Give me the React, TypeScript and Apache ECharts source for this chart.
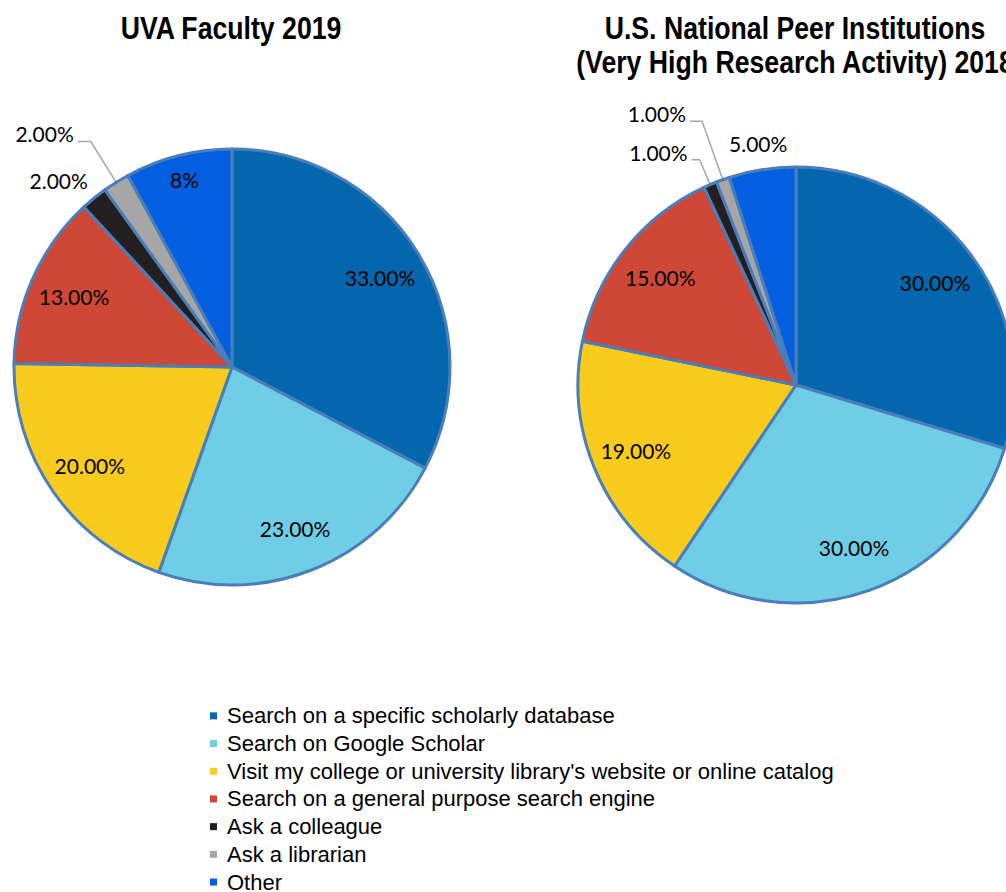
import React, { useEffect, useRef } from "react";
import * as echarts from "echarts";

const categories = [
  "Search on a specific scholarly database",
  "Search on Google Scholar",
  "Visit my college or university library's website or online catalog",
  "Search on a general purpose search engine",
  "Ask a colleague",
  "Ask a librarian",
  "Other",
];
const uvaValues = [33, 23, 20, 13, 2, 2, 8];
const peerValues = [30, 30, 19, 15, 1, 1, 5];
const uvaLabels = ["33.00%", "23.00%", "20.00%", "13.00%", "2.00%", "2.00%", "8%"];
const peerLabels = ["30.00%", "30.00%", "19.00%", "15.00%", "1.00%", "1.00%", "5.00%"];
const uvaTitle = "UVA Faculty 2019";
const peerTitle = ["U.S. National Peer Institutions", "(Very High Research Activity) 2018"];

const colors = ["#0466ac", "#6fcde6", "#f8cb1c", "#cf4836", "#231f20", "#a6a6a6", "#035ee0"];

const LABEL_FONT = "Lato";
const SANS = "'Liberation Sans', Arial, sans-serif";
const R = 218;

type OutCfg = { length: number; length2: number; line: boolean; lift: number; gap: number };

function buildPie(
  center: [number, number],
  values: number[],
  labels: string[],
  farRadius: number,
  outside: Record<number, OutCfg>
) {
  const inner = [0, 1, 2, 3];
  const far = [6];
  const main = {
    type: "pie",
    center,
    radius: R,
    startAngle: 90,
    clockwise: true,
    avoidLabelOverlap: false,
    silent: true,
    z: 2,
    itemStyle: { borderColor: "#4a7ebb", borderWidth: 3 },
    label: { show: false },
    labelLine: { show: false },
    emphasis: { disabled: true },
    data: values.map((v, i) => {
      const o = outside[i];
      const item: any = { name: categories[i], value: v, itemStyle: { color: colors[i] } };
      if (o) {
        item.label = {
          show: true,
          position: "outside",
          formatter: labels[i] + "\n ",
          lineHeight: o.lift * 2,
          color: "#000",
          fontFamily: LABEL_FONT,
          fontSize: 21,
          distanceToLabelLine: o.gap,
        };
        item.labelLine = {
          show: o.line,
          length: o.length,
          length2: o.length2,
          smooth: false,
          lineStyle: { color: "#a6a6a6", width: 1.5 },
        };
      }
      return item;
    }),
  };
  const overlay = (radius: number, idx: number[]) => ({
    type: "pie",
    center,
    radius,
    startAngle: 90,
    clockwise: true,
    avoidLabelOverlap: false,
    silent: true,
    z: 3,
    itemStyle: { color: "rgba(0,0,0,0)", borderWidth: 0 },
    emphasis: { disabled: true },
    labelLine: { show: false },
    label: { show: false },
    data: values.map((v, i) => ({
      name: categories[i],
      value: v,
      label: idx.includes(i)
        ? {
            show: true,
            position: "inside",
            formatter: labels[i],
            color: "#000",
            fontFamily: LABEL_FONT,
            fontSize: 21,
          }
        : { show: false },
    })),
  });
  return [main, overlay(340, inner), overlay(farRadius, far)];
}

function titleText(text: string, x: number, y: number) {
  return {
    type: "text",
    x,
    y,
    scaleX: 0.86,
    style: {
      text,
      x: 0,
      y: 0,
      font: `bold 31px ${SANS}`,
      fill: "#000",
      textAlign: "center",
      textVerticalAlign: "middle",
    },
  };
}

export default function App() {
  const ref = useRef<HTMLDivElement>(null);
  useEffect(() => {
    if (!ref.current) return;
    const chart = echarts.init(ref.current, null, { renderer: "svg" });
    const left = buildPie([232, 367], uvaValues, uvaLabels, 380, {
      4: { length: 10, length2: 0, line: false, lift: 10, gap: 0 },
      5: { length: 48, length2: 13, line: true, lift: 8, gap: 4 },
    });
    const right = buildPie([796, 385], peerValues, peerLabels, 482, {
      4: { length: 27, length2: 8, line: true, lift: 7, gap: 4 },
      5: { length: 62, length2: 12, line: true, lift: 8, gap: 4 },
    });
    chart.setOption({
      animation: false,
      backgroundColor: "#ffffff",
      color: colors,
      graphic: [
        titleText(uvaTitle, 231, 28),
        titleText(peerTitle[0], 795, 28),
        titleText(peerTitle[1], 795, 62),
      ],
      legend: {
        orient: "vertical",
        left: 210,
        top: 702,
        height: 200,
        padding: 0,
        data: categories,
        icon: "rect",
        itemWidth: 7,
        itemHeight: 7,
        itemGap: 0,
        selectedMode: false,
        itemStyle: { borderWidth: 0 },
        textStyle: {
          fontFamily: SANS,
          fontSize: 22,
          lineHeight: 27.7,
          color: "#000",
          padding: [0, 0, 0, 5],
        },
      },
      series: [...left, ...right],
    });
    return () => chart.dispose();
  }, []);
  return (
    <div
      ref={ref}
      style={{ position: "absolute", left: 0, top: 0, width: 1006, height: 892 }}
    />
  );
}
